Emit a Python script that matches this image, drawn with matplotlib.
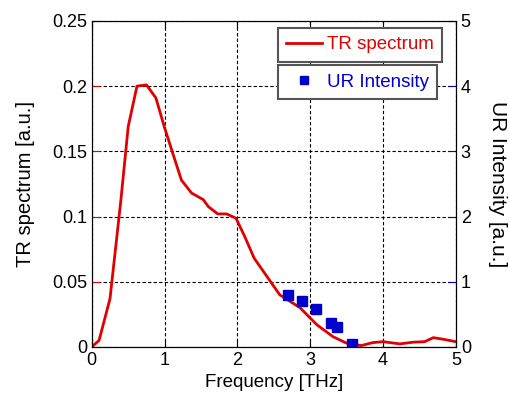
import matplotlib.pyplot as plt

plt.rcParams['font.family'] = ['Liberation Sans', 'DejaVu Sans']

# TR spectrum (left axis)
freq_tr = [0.0, 0.1, 0.25, 0.40, 0.50, 0.62, 0.75, 0.88, 1.0, 1.23, 1.37, 1.53,
           1.6, 1.73, 1.85, 1.98, 2.10, 2.23, 2.33, 2.58, 2.86, 3.09, 3.31,
           3.50, 3.70, 3.86, 4.0, 4.23, 4.41, 4.57, 4.69, 4.83, 5.0]
tr_spec = [0.0, 0.005, 0.037, 0.113, 0.169, 0.200, 0.201, 0.191, 0.168, 0.128,
           0.118, 0.113, 0.1076, 0.102, 0.102, 0.0987, 0.0846, 0.068, 0.060,
           0.040, 0.030, 0.017, 0.0079, 0.0028, 0.001, 0.0033, 0.004, 0.0023,
           0.0036, 0.004, 0.0071, 0.0058, 0.004]

# UR intensity (right axis)
freq_ur = [2.70, 2.89, 3.08, 3.28, 3.37, 3.57]
ur_int = [0.80, 0.705, 0.58, 0.37, 0.30, 0.04]

fig = plt.figure(figsize=(5.1, 3.96), dpi=100)
ax = fig.add_axes([0.180, 0.124, 0.714, 0.823])
ax2 = ax.twinx()

ax.plot(freq_tr, tr_spec, color='#e00000', lw=2, label='TR spectrum')
ax2.plot(freq_ur, ur_int, 's', color='#0000cc', ms=7, label='UR Intensity')

ax.set_xlim(0, 5)
ax.set_ylim(0, 0.25)
ax2.set_ylim(0, 5)
ax.set_xticks([0, 1, 2, 3, 4, 5])
ax.set_yticks([0, 0.05, 0.1, 0.15, 0.2, 0.25])
ax.set_yticklabels(['0', '0.05', '0.1', '0.15', '0.2', '0.25'])
ax2.set_yticks([0, 1, 2, 3, 4, 5])

ax.grid(True, color='black', ls=(0, (3, 2)), lw=0.8)
ax.tick_params(axis='both', direction='in', labelsize=13, length=6)
ax.tick_params(axis='y', colors='#e00000', labelcolor='black')
ax.tick_params(axis='x', top=True)
ax2.tick_params(axis='y', direction='in', labelsize=13, length=6,
                colors='#0000cc', labelcolor='black')

ax.set_xlabel('Frequency [THz]', fontsize=13.5, labelpad=4)
ax.set_ylabel('TR spectrum [a.u.]', fontsize=14.5, labelpad=12)
ax2.set_ylabel('UR Intensity [a.u.]', fontsize=15, rotation=270, labelpad=26)

leg1 = ax.legend(loc='upper right', bbox_to_anchor=(0.962, 0.979), fontsize=13.5,
                 fancybox=False, edgecolor='#555555', framealpha=1,
                 handlelength=1.9, handletextpad=0.25, borderpad=0.45,
                 borderaxespad=0, labelcolor='#e00000')
leg1.get_frame().set_linewidth(1.5)
leg2 = ax2.legend(loc='upper right', bbox_to_anchor=(0.948, 0.865), fontsize=13.5,
                  fancybox=False, edgecolor='#555555', framealpha=1,
                  handlelength=1.9, handletextpad=0.25, borderpad=0.45,
                  borderaxespad=0, labelcolor='#0000cc', markerscale=0.8)
leg2.get_frame().set_linewidth(1.5)

fig.savefig('out.png', dpi=100)
